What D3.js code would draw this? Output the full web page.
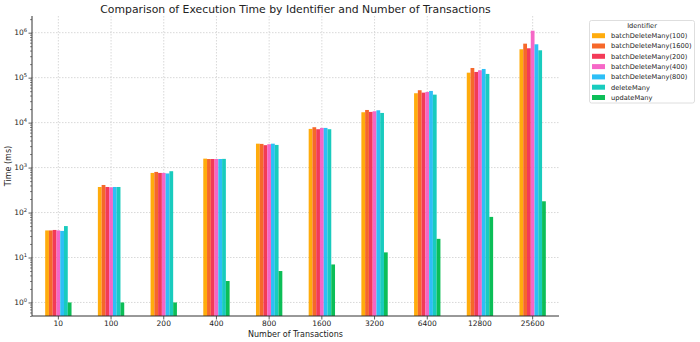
<!DOCTYPE html>
<html>
<head>
<meta charset="utf-8">
<script src="https://cdn.jsdelivr.net/npm/d3@7"></script>
<style>
  html, body { margin: 0; padding: 0; background: #fff; }
  svg { display: block; font-family: "DejaVu Sans", sans-serif; }
</style>
</head>
<body>
<svg id="chart" width="700" height="342"></svg>
<script>
// Transaction counts on the x axis
const transactions = ["10", "100", "200", "400", "800", "1600", "3200", "6400", "12800", "25600"];

// Execution time (ms) per identifier
const identifiers = [
  "batchDeleteMany(100)",
  "batchDeleteMany(1600)",
  "batchDeleteMany(200)",
  "batchDeleteMany(400)",
  "batchDeleteMany(800)",
  "deleteMany",
  "updateMany"
];
const batch100  = [40, 370, 760, 1580, 3400, 7250, 17000, 45000, 129000, 428000];
const batch1600 = [40, 410, 800, 1550, 3360, 7900, 19100, 52500, 164000, 570000];
const batch200  = [41, 370, 760, 1550, 3150, 7130, 17300, 46400, 134000, 450000];
const batch400  = [40, 365, 760, 1550, 3310, 7620, 17900, 48100, 146000, 1107000];
const batch800  = [39, 370, 740, 1550, 3400, 7620, 18800, 50600, 156000, 552000];
const deleteMany = [50, 370, 830, 1560, 3190, 7130, 16400, 41900, 121000, 406000];
const updateMany = [1, 1, 1, 3, 5, 7, 13, 26, 80, 178];
const seriesValues = [batch100, batch1600, batch200, batch400, batch800, deleteMany, updateMany];

const yTickValues = [1, 10, 100, 1000, 10000, 100000, 1000000];
const yTickExponents = ["0", "1", "2", "3", "4", "5", "6"];

const colors = ["#ffa800", "#f5601f", "#f2304f", "#f55fc4", "#22bcf6", "#0dc9bb", "#00bb4f"];

const svg = d3.select("#chart");
const plot = { left: 32, right: 559, top: 16, bottom: 316 };

const x = d3.scaleBand().domain(transactions).range([plot.left, plot.right]).padding(0);
const inner = d3.scaleBand()
  .domain(identifiers)
  .range([x.bandwidth() * 0.25, x.bandwidth() * 0.75])
  .padding(0);
const y = d3.scaleLog().domain([0.5, 2.35e6]).range([plot.bottom, plot.top]);

// grid lines
const grid = svg.append("g").attr("stroke", "#cfcfcf").attr("stroke-width", 0.8)
  .attr("stroke-dasharray", "1.5,1.5");
yTickValues.forEach(v => {
  grid.append("line").attr("x1", plot.left).attr("x2", plot.right)
    .attr("y1", y(v)).attr("y2", y(v));
});
transactions.forEach(t => {
  const cx = x(t) + x.bandwidth() / 2;
  grid.append("line").attr("x1", cx).attr("x2", cx)
    .attr("y1", plot.top).attr("y2", plot.bottom);
});

// bars
const bars = svg.append("g");
identifiers.forEach((id, si) => {
  bars.append("g").attr("fill", colors[si]).attr("opacity", 0.95)
    .selectAll("rect")
    .data(seriesValues[si].map((v, i) => ({ t: transactions[i], v })))
    .join("rect")
    .attr("x", d => x(d.t) + inner(id))
    .attr("width", inner.bandwidth())
    .attr("y", d => y(d.v))
    .attr("height", d => plot.bottom - y(d.v));
});

// axes
const yAxis = d3.axisLeft(y).tickValues(yTickValues).tickFormat("").tickSize(3.5);
const gy = svg.append("g").attr("transform", `translate(${plot.left},0)`).call(yAxis);
// minor ticks
const minor = [];
for (let e = -1; e <= 6; e++) for (let m = 2; m <= 9; m++) {
  const v = m * Math.pow(10, e);
  if (v >= 0.5 && v <= 2.35e6) minor.push(v);
}
svg.append("g").attr("transform", `translate(${plot.left},0)`)
  .call(d3.axisLeft(y).tickValues(minor).tickFormat("").tickSize(2))
  .call(g => g.select(".domain").remove())
  .selectAll("line").attr("stroke", "#333").attr("stroke-width", 0.6);
gy.select(".domain").attr("stroke", "#333").attr("d", `M0,${plot.top}V${plot.bottom}`);
gy.selectAll("line").attr("stroke", "#333").attr("stroke-width", 0.8);

// y tick labels with superscript exponents
const yl = svg.append("g").attr("font-size", 7.5).attr("fill", "#222");
yTickValues.forEach((v, i) => {
  const t = yl.append("text").attr("x", 27).attr("y", y(v) + 2.7).attr("text-anchor", "end");
  t.append("tspan").text("10");
  t.append("tspan").attr("font-size", 5.2).attr("dy", -3.5).text(yTickExponents[i]);
});

const xAxis = d3.axisBottom(x).tickSizeOuter(0).tickSize(3.5);
const gx = svg.append("g").attr("transform", `translate(0,${plot.bottom})`).call(xAxis);
gx.select(".domain").attr("stroke", "#333").attr("d", `M${plot.left},0H${plot.right}`);
gx.selectAll("line").attr("stroke", "#333").attr("stroke-width", 0.8);
gx.selectAll("text").attr("font-size", 7.5).attr("fill", "#222")
  .attr("y", 4.5).attr("dy", "0.71em")
  .attr("font-family", "DejaVu Sans");

// titles
svg.append("text").attr("x", (plot.left + plot.right) / 2).attr("y", 12.5)
  .attr("text-anchor", "middle").attr("font-size", 10.85).attr("fill", "#222")
  .text("Comparison of Execution Time by Identifier and Number of Transactions");
svg.append("text").attr("x", (plot.left + plot.right) / 2).attr("y", 337)
  .attr("text-anchor", "middle").attr("font-size", 8).attr("fill", "#222")
  .text("Number of Transactions");
svg.append("text")
  .attr("transform", `translate(10.5,${(plot.top + plot.bottom) / 2}) rotate(-90)`)
  .attr("text-anchor", "middle").attr("font-size", 8).attr("fill", "#222")
  .text("Time (ms)");

// legend
const lg = svg.append("g");
lg.append("rect").attr("x", 589.5).attr("y", 20.5).attr("width", 105).attr("height", 82.5)
  .attr("rx", 2).attr("fill", "#fff").attr("fill-opacity", 0.8)
  .attr("stroke", "#d6d6d6").attr("stroke-width", 0.8);
lg.append("text").attr("x", 642).attr("y", 28.3).attr("text-anchor", "middle")
  .attr("font-size", 6.6).attr("fill", "#222").text("Identifier");
identifiers.forEach((id, i) => {
  const cy = 35.7 + i * 10.3;
  lg.append("rect").attr("x", 592).attr("y", cy - 2.5).attr("width", 13).attr("height", 5)
    .attr("fill", colors[i]).attr("opacity", 0.95);
  lg.append("text").attr("x", 611).attr("y", cy + 2.4).attr("font-size", 6.65)
    .attr("fill", "#222").text(id);
});
</script>
</body>
</html>
